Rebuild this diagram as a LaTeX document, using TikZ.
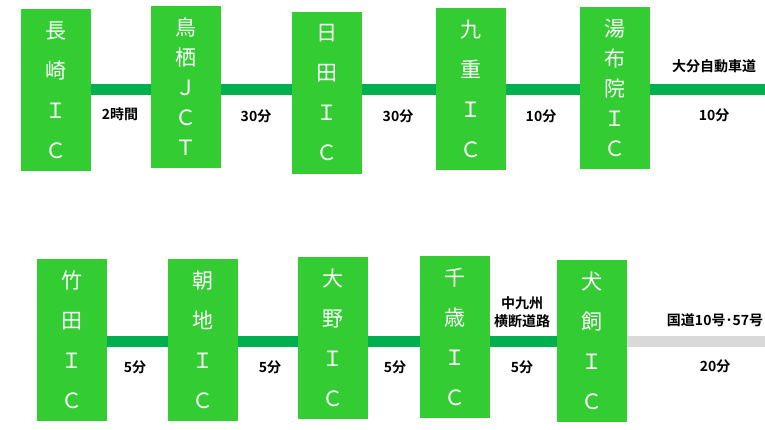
\documentclass[tikz,border=0pt]{standalone}
\usepackage{fontspec}
\setmainfont{Noto Sans CJK JP}[BoldFont={Noto Sans CJK JP Bold}]
\usepackage{tikz}
\definecolor{icgreen}{RGB}{51,204,51}
\definecolor{roadgreen}{RGB}{0,176,80}
\definecolor{roadgrey}{RGB}{217,217,217}
\tikzset{
	ic/.style={fill=icgreen, text=white, minimum width=70pt, minimum height=162pt, inner sep=0pt, align=center, font=\fontsize{21}{40}\selectfont},
	icfive/.style={ic, font=\fontsize{21}{30}\selectfont},
	road/.style={line width=11pt, color=roadgreen},
	kokudo/.style={line width=11pt, color=roadgrey},
	time/.style={inner sep=0pt, align=center, font=\bfseries\fontsize{14}{18}\selectfont}
}

\begin{document}
\begin{tikzpicture}[x=1pt, y=-1pt]
			%%%%% START %%%%%
			\useasboundingbox (0, 0) rectangle (765, 429);
			
			\coordinate (topline) at (0, 89.5);
			\coordinate (topend) at (765, 89.5);
			\coordinate (botline) at (0, 341.5);
			\coordinate (botend) at (765, 341.5);
			
			%% upper row
			\node[ic] (nagasaki) at (56, 90) {長\\崎\\Ｉ\\Ｃ};
			\node[icfive] (tosu) at (186, 87) {鳥\\栖\\Ｊ\\Ｃ\\Ｔ};
			\node[ic] (hita) at (327, 93) {日\\田\\Ｉ\\Ｃ};
			\node[ic] (kokonoe) at (471, 89) {九\\重\\Ｉ\\Ｃ};
			\node[icfive] (yufuin) at (615, 88) {湯\\布\\院\\Ｉ\\Ｃ};
			
			\draw[road] (nagasaki.east |- topline) -- (tosu.west |- topline);
			\draw[road] (tosu.east |- topline) -- (hita.west |- topline);
			\draw[road] (hita.east |- topline) -- (kokonoe.west |- topline);
			\draw[road] (kokonoe.east |- topline) -- (yufuin.west |- topline);
			\draw[road] (yufuin.east |- topline) -- (topend);
			
			\node[time] (t1) at (120, 114) {2時間};
			\node[time] (t2) at (256, 116) {30分};
			\node[time] (t3) at (398, 116) {30分};
			\node[time] (t4) at (541, 116) {10分};
			\node[time] (t5) at (714, 115) {10分};
			\node[time] (oita) at (714, 66) {大分自動車道};
			
			%% lower row
			\node[ic] (taketa) at (72, 340) {竹\\田\\Ｉ\\Ｃ};
			\node[ic] (asaji) at (203, 340) {朝\\地\\Ｉ\\Ｃ};
			\node[ic] (ono) at (333, 338) {大\\野\\Ｉ\\Ｃ};
			\node[ic] (chitose) at (455, 337) {千\\歳\\Ｉ\\Ｃ};
			\node[ic] (inukai) at (592, 341) {犬\\飼\\Ｉ\\Ｃ};
			
			\draw[road] (taketa.east |- botline) -- (asaji.west |- botline);
			\draw[road] (asaji.east |- botline) -- (ono.west |- botline);
			\draw[road] (ono.east |- botline) -- (chitose.west |- botline);
			\draw[road] (chitose.east |- botline) -- (inukai.west |- botline);
			\draw[kokudo] (inukai.east |- botline) -- (botend);
			
			\node[time] (t6) at (135, 367) {5分};
			\node[time] (t7) at (270, 367) {5分};
			\node[time] (t8) at (395, 367) {5分};
			\node[time] (t9) at (522, 367) {5分};
			\node[time] (t10) at (715, 366) {20分};
			\node[time] (naka) at (522, 312) {中九州\\横断道路};
			\node[time] (route) at (715, 320) {国道10号･57号};
			%%%%% END %%%%%
\end{tikzpicture}
\end{document}
